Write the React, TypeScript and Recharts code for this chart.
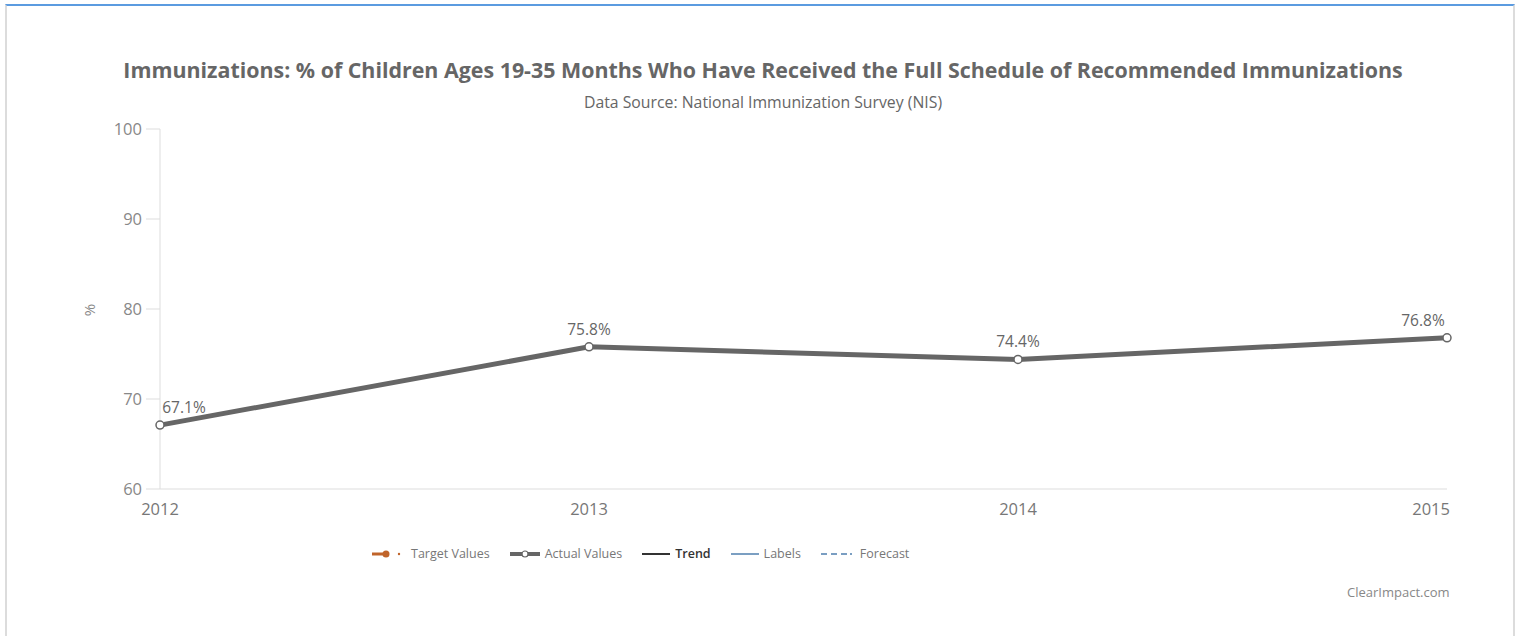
import React from "react";
import { LineChart, Line, XAxis, YAxis, LabelList } from "recharts";

const years = ["2012", "2013", "2014", "2015"];
const actualValues = [67.1, 75.8, 74.4, 76.8];
const yTicks = [60, 70, 80, 90, 100];

const legendItems = [
  { name: "Target Values", kind: "target", color: "#c0642a" },
  { name: "Actual Values", kind: "actual", color: "#666666" },
  { name: "Trend", kind: "trend", color: "#333333" },
  { name: "Labels", kind: "labels", color: "#4f7fae" },
  { name: "Forecast", kind: "forecast", color: "#4f7fae" },
];

const FONT = "'Open Sans', 'Noto Sans', sans-serif";
const PLOT_LEFT = 160;
const PLOT_RIGHT = 1447;
const PLOT_TOP = 129;
const PLOT_BOTTOM = 489;
const X_AXIS_HEIGHT = 40;

const data = years.map((year, i) => ({ year, actual: actualValues[i] }));

function PointLabel(props: any) {
  const { x, y, value } = props;
  const text = `${value}%`;
  const half = 24;
  // keep labels inside the plot like the original
  const cx = Math.min(Math.max(x, PLOT_LEFT + half), PLOT_RIGHT - half);
  return (
    <text
      x={cx}
      y={y - 12}
      textAnchor="middle"
      fill="#666"
      fontSize={15.5}
      fontWeight={500}
      fontFamily={FONT}
    >
      {text}
    </text>
  );
}

function YearTick(props: any) {
  const { x, y, payload, index } = props;
  const last = index === years.length - 1;
  return (
    <text
      x={last ? x + 3 : x}
      y={y}
      dy="0.71em"
      textAnchor={last ? "end" : "middle"}
      fill="#777"
      fontSize={16.5}
      fontFamily={FONT}
    >
      {payload.value}
    </text>
  );
}

function LegendSymbol({ kind, color }: { kind: string; color: string }) {
  if (kind === "target") {
    return (
      <svg width={34} height={10}>
        <line x1={0} y1={5} x2={16} y2={5} stroke={color} strokeWidth={3} />
        <circle cx={14} cy={5} r={3.5} fill={color} />
        <circle cx={27} cy={5} r={1.2} fill={color} />
      </svg>
    );
  }
  if (kind === "actual") {
    return (
      <svg width={30} height={10}>
        <line x1={0} y1={5} x2={30} y2={5} stroke={color} strokeWidth={4} />
        <circle cx={15} cy={5} r={3} fill="#fff" stroke={color} strokeWidth={1.2} />
      </svg>
    );
  }
  if (kind === "forecast") {
    return (
      <svg width={34} height={10}>
        <line x1={0} y1={5} x2={26} y2={5} stroke={color} strokeWidth={1.5} strokeDasharray="6 4" />
        <circle cx={30} cy={5} r={1} fill={color} />
      </svg>
    );
  }
  return (
    <svg width={28} height={10}>
      <line x1={0} y1={5} x2={28} y2={5} stroke={color} strokeWidth={kind === "trend" ? 2 : 1.5} />
    </svg>
  );
}

function ChartLegend() {
  return (
    <div
      style={{
        position: "absolute",
        left: 372,
        top: 545,
        display: "flex",
        alignItems: "center",
        fontFamily: FONT,
        fontSize: 12.5,
        color: "#777",
      }}
    >
      {legendItems.map((item) => (
        <div key={item.name} style={{ display: "flex", alignItems: "center", marginRight: 20 }}>
          <LegendSymbol kind={item.kind} color={item.color} />
          <span
            style={{
              marginLeft: 5,
              color: item.kind === "trend" ? "#333" : "#777",
              fontWeight: item.kind === "trend" ? 600 : 400,
            }}
          >
            {item.name}
          </span>
        </div>
      ))}
    </div>
  );
}

export default function App() {
  return (
    <div
      style={{
        position: "absolute",
        left: 0,
        top: 0,
        width: 1520,
        height: 636,
        background: "#fff",
        overflow: "hidden",
      }}
    >
      {/* frame */}
      <div
        style={{
          position: "absolute",
          left: 5,
          top: 4,
          width: 1510,
          height: 640,
          borderTop: "2px solid #5b9be0",
          borderLeft: "2px solid #dcdcdc",
          borderRight: "2px solid #dcdcdc",
          boxSizing: "border-box",
        }}
      />

      <div
        style={{
          position: "absolute",
          left: 0,
          width: 1526,
          top: 55,
          textAlign: "center",
          fontFamily: FONT,
          fontSize: 21.4,
          fontWeight: 700,
          color: "#666",
          whiteSpace: "nowrap",
        }}
      >
        Immunizations: % of Children Ages 19-35 Months Who Have Received the Full Schedule of Recommended Immunizations
      </div>
      <div
        style={{
          position: "absolute",
          left: 0,
          width: 1526,
          top: 91,
          textAlign: "center",
          fontFamily: FONT,
          fontSize: 15.8,
          color: "#666",
        }}
      >
        Data Source: National Immunization Survey (NIS)
      </div>

      <div
        style={{
          position: "absolute",
          left: 83,
          top: 300,
          fontFamily: FONT,
          fontSize: 15,
          color: "#888",
          transform: "rotate(-90deg)",
        }}
      >
        %
      </div>

      <div style={{ position: "absolute", left: 0, top: 0 }}>
        <LineChart
          width={1520}
          height={636}
          data={data}
          margin={{
            top: PLOT_TOP,
            right: 1520 - PLOT_RIGHT,
            bottom: 636 - PLOT_BOTTOM - X_AXIS_HEIGHT,
            left: 0,
          }}
        >
          <XAxis
            dataKey="year"
            height={X_AXIS_HEIGHT}
            axisLine={{ stroke: "#dddddd" }}
            tickLine={false}
            tickMargin={8}
            tick={<YearTick />}
            interval={0}
          />
          <YAxis
            width={PLOT_LEFT}
            domain={[60, 100]}
            ticks={yTicks}
            axisLine={{ stroke: "#dddddd" }}
            tickLine={{ stroke: "#dddddd" }}
            tickSize={14}
            tickMargin={4}
            tick={{ fill: "#888", fontSize: 16.5, fontFamily: FONT }}
          />
          <Line
            type="linear"
            dataKey="actual"
            stroke="#666666"
            strokeWidth={5}
            dot={{ r: 4, fill: "#fff", stroke: "#666666", strokeWidth: 1.5 }}
            activeDot={false}
            isAnimationActive={false}
          >
            <LabelList dataKey="actual" content={<PointLabel />} />
          </Line>
        </LineChart>
      </div>

      <ChartLegend />

      <div
        style={{
          position: "absolute",
          left: 1347,
          top: 583,
          fontFamily: FONT,
          fontSize: 13,
          color: "#888",
        }}
      >
        ClearImpact.com
      </div>
    </div>
  );
}
